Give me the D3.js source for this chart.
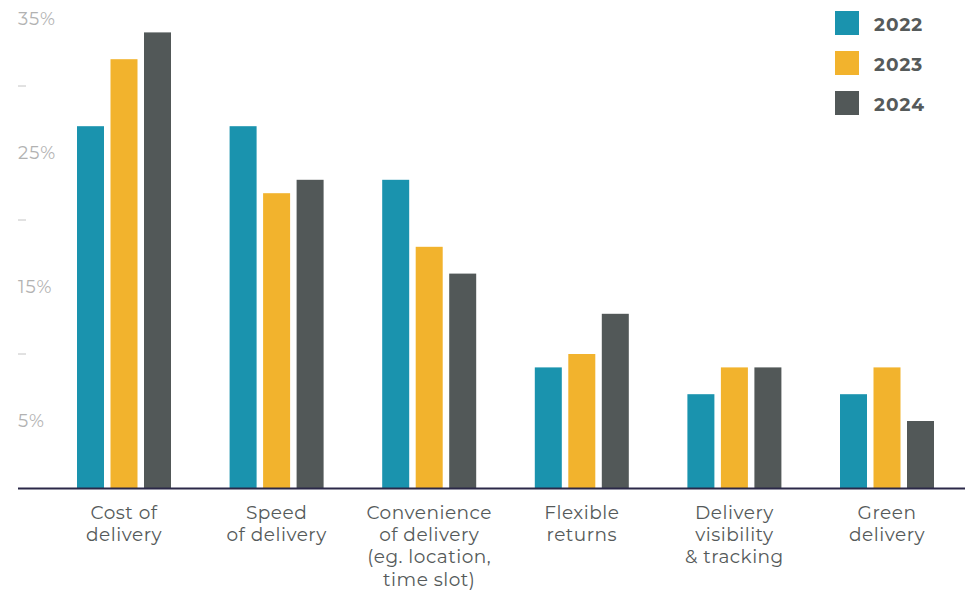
<!DOCTYPE html>
<html>
<head>
<meta charset="utf-8">
<script src="https://cdn.jsdelivr.net/npm/d3@7"></script>
<style>
  html, body { margin: 0; padding: 0; background: #fff; }
  svg { display: block; font-family: "Montserrat", "Noto Sans", "Open Sans", sans-serif; }
</style>
</head>
<body>
<svg id="chart" width="969" height="591"></svg>
<script>
// Delivery factors by year (share of respondents, %)
const categories = [
  ["Cost of", "delivery"],
  ["Speed", "of delivery"],
  ["Convenience", "of delivery", "(eg. location,", "time slot)"],
  ["Flexible", "returns"],
  ["Delivery", "visibility", "& tracking"],
  ["Green", "delivery"]
];
const years = ["2022", "2023", "2024"];
const values2022 = [27, 27, 23, 9, 7, 7];
const values2023 = [32, 22, 18, 10, 9, 9];
const values2024 = [34, 23, 16, 13, 9, 5];
const tickValues = [5, 10, 15, 20, 25, 30, 35];
const labelledTicks = [5, 15, 25, 35];

const colors = { "2022": "#1a93ae", "2023": "#f2b32d", "2024": "#525858" };
const seriesByYear = { "2022": values2022, "2023": values2023, "2024": values2024 };

const svg = d3.select("#chart");
const catKeys = categories.map(c => c.join(" "));

const x = d3.scaleBand()
  .domain(catKeys)
  .range([47.7, 963.3])
  .paddingInner(0.384)
  .paddingOuter(0.192);

const xs = d3.scaleBand()
  .domain(years)
  .range([0, x.bandwidth()])
  .paddingInner(0.194);

const y = d3.scaleLinear().domain([0, 35]).range([488, 19]);

// y-axis labels and dashes
const yAxis = svg.append("g");
tickValues.forEach(v => {
  if (labelledTicks.includes(v)) {
    yAxis.append("text")
      .attr("x", 18)
      .attr("y", y(v))
      .attr("dy", "0.36em")
      .attr("font-size", 18)
      .attr("font-weight", 400)
      .attr("letter-spacing", 1)
      .attr("fill", "#b2b2b2")
      .text(v + "%");
  } else {
    yAxis.append("line")
      .attr("x1", 18).attr("x2", 26)
      .attr("y1", y(v)).attr("y2", y(v))
      .attr("stroke", "#c4c4c4")
      .attr("stroke-width", 1);
  }
});

// bars
const groups = svg.append("g").selectAll("g")
  .data(catKeys)
  .join("g")
  .attr("transform", d => `translate(${x(d)},0)`);

groups.selectAll("rect")
  .data((d, i) => years.map(yr => ({ yr, v: seriesByYear[yr][i] })))
  .join("rect")
  .attr("x", d => xs(d.yr))
  .attr("width", xs.bandwidth())
  .attr("y", d => y(d.v))
  .attr("height", d => y(0) - y(d.v))
  .attr("fill", d => colors[d.yr]);

// baseline
svg.append("line")
  .attr("x1", 18).attr("x2", 965)
  .attr("y1", y(0) + 0.5).attr("y2", y(0) + 0.5)
  .attr("stroke", "#2b2848")
  .attr("stroke-width", 2);

// category labels
const labels = svg.append("g");
categories.forEach((lines, i) => {
  const cx = x(catKeys[i]) + x.bandwidth() / 2;
  const t = labels.append("text")
    .attr("text-anchor", "middle")
    .attr("font-size", 18.5)
    .attr("letter-spacing", 0.5)
    .attr("fill", "#555a5a");
  lines.forEach((ln, j) => {
    t.append("tspan")
      .attr("x", cx)
      .attr("y", 519 + j * 22.2)
      .text(ln);
  });
});

// legend
const legend = svg.append("g");
years.forEach((yr, i) => {
  legend.append("rect")
    .attr("x", 835).attr("y", 11 + i * 40)
    .attr("width", 24).attr("height", 24)
    .attr("fill", colors[yr]);
  legend.append("text")
    .attr("x", 874).attr("y", 24 + i * 40)
    .attr("dy", "0.36em")
    .attr("font-size", 18.5)
    .attr("font-weight", 700)
    .attr("letter-spacing", 1)
    .attr("fill", "#555a5a")
    .text(yr);
});
</script>
</body>
</html>
